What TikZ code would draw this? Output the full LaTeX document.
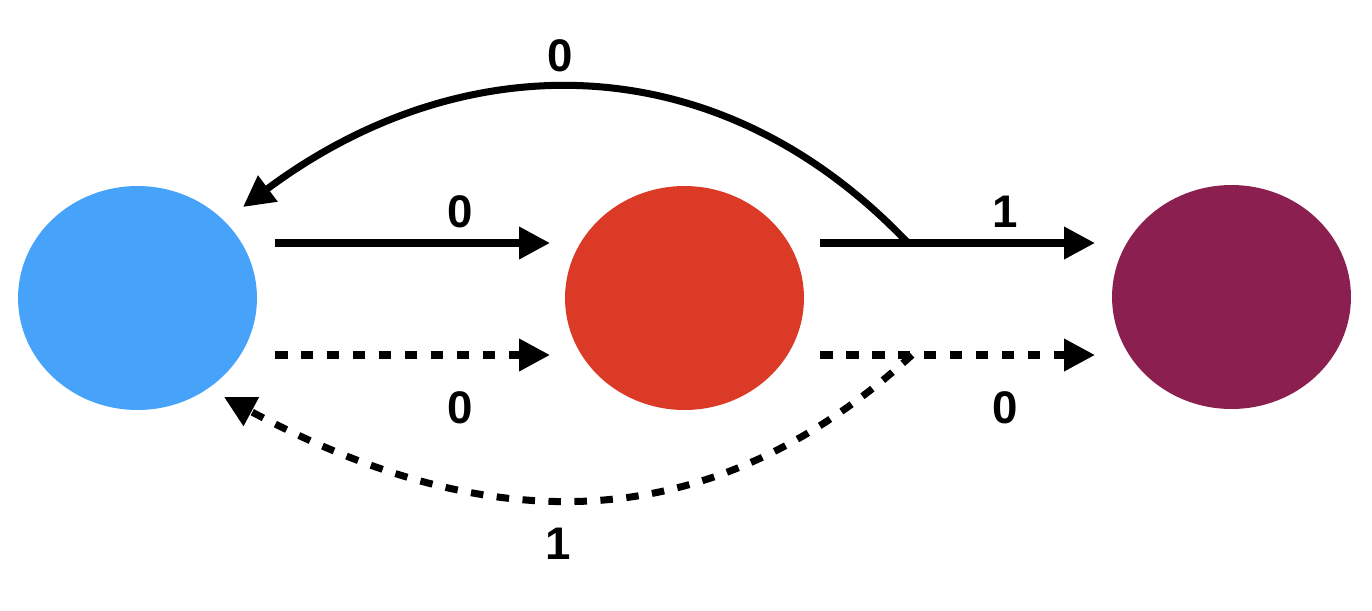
\documentclass[tikz,border=0pt]{standalone}
\usepackage{fontspec}
\setmainfont{Liberation Sans}
\usetikzlibrary{shapes.geometric,arrows.meta}
\definecolor{cblue}{HTML}{47A3F9}
\definecolor{cred}{HTML}{DA3A26}
\definecolor{cpurple}{HTML}{8A1F50}
\tikzset{
  state/.style={ellipse, minimum width=4.78cm, minimum height=4.48cm, inner sep=0pt, draw=none},
  edge/.style={line width=4pt, -{Triangle[length=0.62cm,width=0.62cm]}},
  dashededge/.style={edge, dash pattern=on 0.25cm off 0.27cm},
  lbl/.style={font=\fontsize{26}{30}\selectfont\bfseries, inner sep=0pt}
}
\begin{document}
\begin{tikzpicture}[x=0.02cm,y=-0.02cm]
\useasboundingbox (0,0) rectangle (1372,610);
\node[state, fill=cblue] (A) at (137.5,298) {};
\node[state, fill=cred] (B) at (684.5,298) {};
\node[state, fill=cpurple] (C) at (1231.5,297) {};
% coordinates
\coordinate (a1) at (275,243);
\coordinate (b1) at (550,243);
\coordinate (a2) at (275,355);
\coordinate (b2) at (550,355);
\coordinate (b3) at (820,243);
\coordinate (c3) at (1095,243);
\coordinate (b4) at (820,355);
\coordinate (c4) at (1095,355);
\coordinate (s1) at (908,243);
\coordinate (t1) at (243,207);
\coordinate (s2) at (912,355);
\coordinate (t2) at (224,397);
% connectors
\draw[edge] (a1) -- (b1);
\draw[dashededge] (a2) -- (b2);
\draw[edge] (b3) -- (c3);
\draw[dashededge] (b4) -- (c4);
\draw[edge] (s1) .. controls (715,40) and (460,45) .. (t1);
\draw[dashededge] (s2) .. controls (700,548) and (478,533) .. (t2);
% labels
\node[lbl] (l1) at (460,212) {0};
\node[lbl] (l2) at (460,408) {0};
\node[lbl] (l3) at (1005,212) {1};
\node[lbl] (l4) at (1005,408) {0};
\node[lbl] (l5) at (560,56) {0};
\node[lbl] (l6) at (558,544) {1};
\end{tikzpicture}
\end{document}
